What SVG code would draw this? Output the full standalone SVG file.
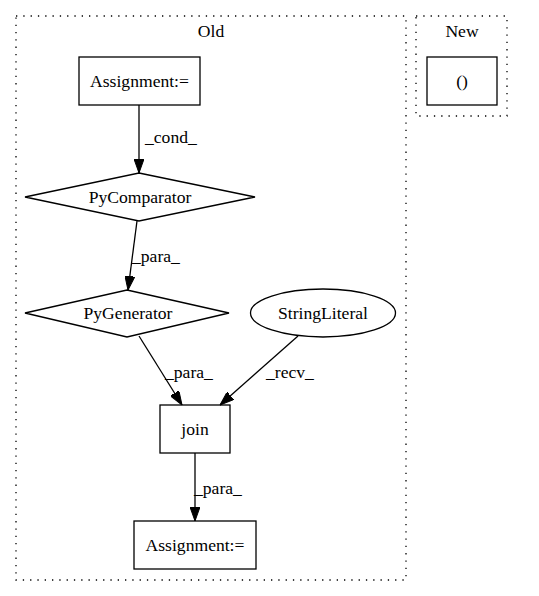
<svg xmlns="http://www.w3.org/2000/svg" width="539" height="596" viewBox="0 0 539 596">
<defs>
<marker id="arr" markerWidth="14" markerHeight="10" refX="14" refY="5" orient="auto" markerUnits="userSpaceOnUse">
<polygon points="0,0 14,5 0,10" fill="#000" stroke="#000"/>
</marker>
</defs>
<style>
text{font-family:"Liberation Serif","Times New Roman",serif;font-size:17.6px;fill:#000}
.n{fill:none;stroke:#000;stroke-width:1.3}
.c{fill:none;stroke:#000;stroke-width:1.3;stroke-dasharray:1.3,6}
.e{fill:none;stroke:#000;stroke-width:1.3;marker-end:url(#arr)}
</style>
<rect width="539" height="596" fill="#fff"/>
<g id="cluster_old"><rect class="c" x="16" y="16" width="390" height="564"/><text x="211" y="37" text-anchor="middle">Old</text></g>
<g id="cluster_new"><rect class="c" x="416" y="16" width="91" height="100"/><text x="462" y="37" text-anchor="middle">New</text></g>
<g id="connectors">
<path class="e" d="M139,105 L139,173"/>
<text x="145" y="143">_cond_</text>
<path class="e" d="M137,221 L128,290"/>
<text x="132" y="262">_para_</text>
<path class="e" d="M139,336 L182,405"/>
<text x="165" y="378">_para_</text>
<path class="e" d="M298,336 L220,405"/>
<text x="266" y="378">_recv_</text>
<path class="e" d="M195,453 L195,521"/>
<text x="194" y="494">_para_</text>
</g>
<g id="n1"><rect class="n" x="79" y="57" width="121" height="48"/><text x="139.5" y="87" text-anchor="middle">Assignment:=</text></g>
<g id="n2"><rect class="n" x="427" y="57" width="70" height="48"/><text x="462" y="87" text-anchor="middle">()</text></g>
<g id="n3"><polygon class="n" points="139,173 255,197 139,221 25,197"/><text x="140" y="203" text-anchor="middle">PyComparator</text></g>
<g id="n4"><polygon class="n" points="127,290 229,313 127,337 25,313"/><text x="128" y="319" text-anchor="middle">PyGenerator</text></g>
<g id="n5"><ellipse class="n" cx="323" cy="313" rx="72.5" ry="24"/><text x="323" y="319" text-anchor="middle">StringLiteral</text></g>
<g id="n6"><rect class="n" x="160" y="405" width="70" height="48"/><text x="195" y="435" text-anchor="middle">join</text></g>
<g id="n7"><rect class="n" x="134" y="521" width="122" height="48"/><text x="195" y="551" text-anchor="middle">Assignment:=</text></g>
</svg>
